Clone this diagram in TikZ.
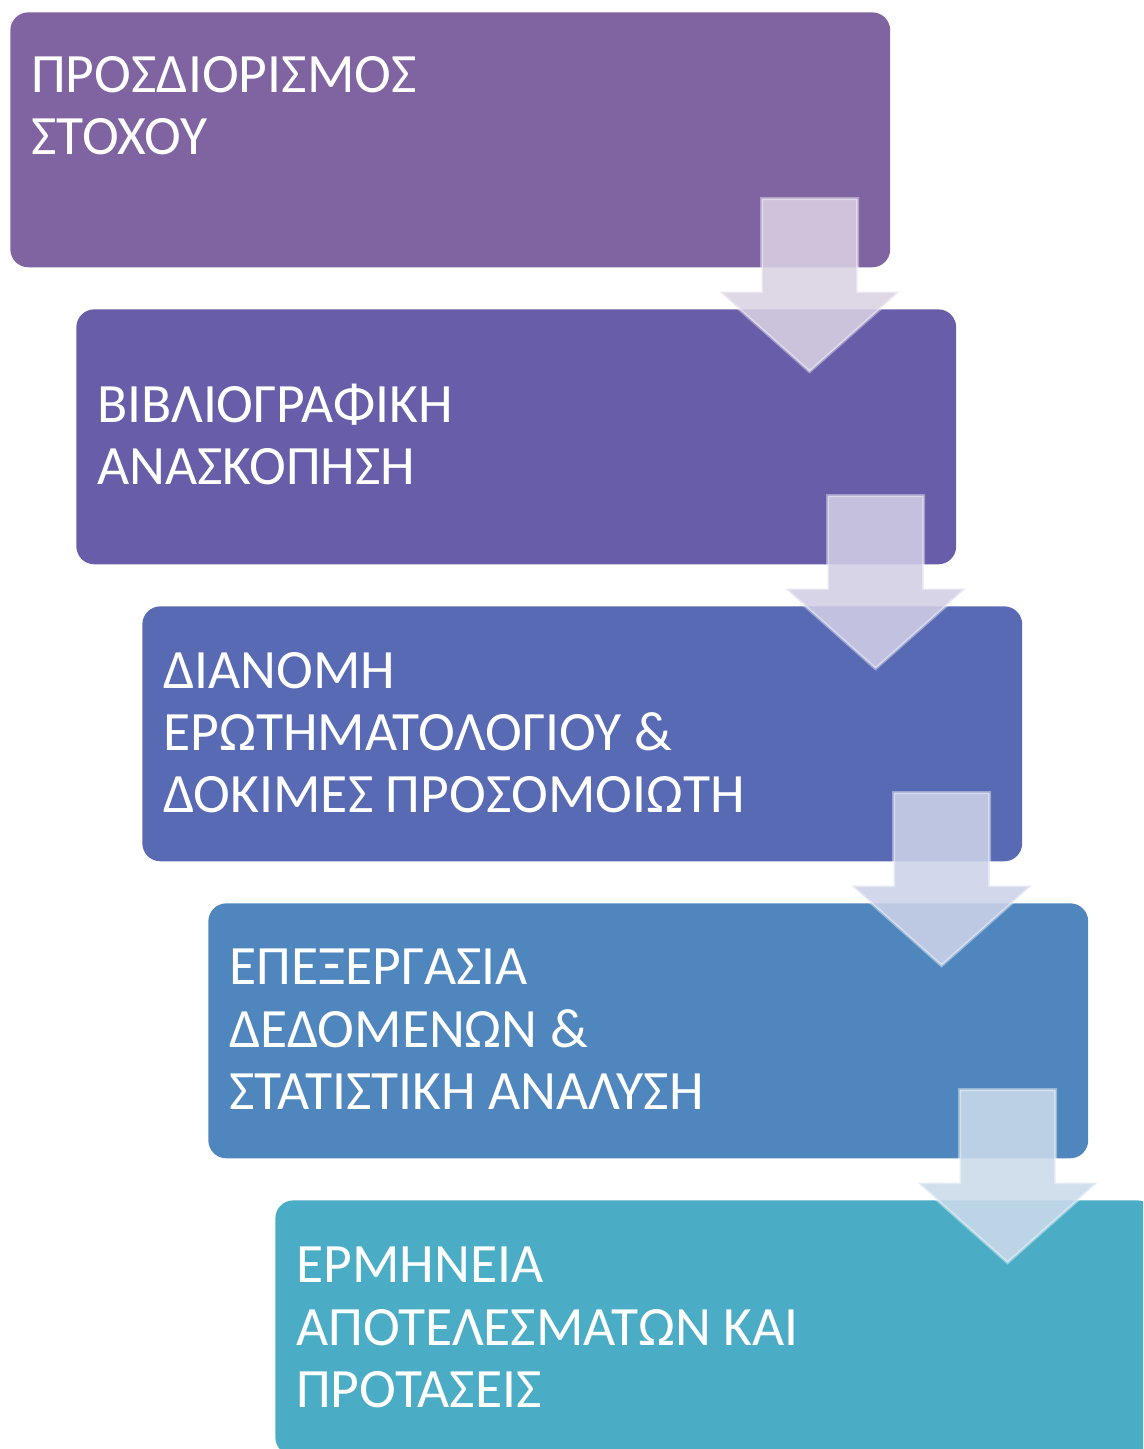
\documentclass[tikz,border=0pt]{standalone}
\usepackage{fontspec}
\setmainfont{Carlito}
\usetikzlibrary{positioning}

\definecolor{stepA}{HTML}{8064A2}
\definecolor{stepB}{HTML}{675DA8}
\definecolor{stepC}{HTML}{596AB4}
\definecolor{stepD}{HTML}{5086BE}
\definecolor{stepE}{HTML}{4BACC6}

\begin{document}
\begin{tikzpicture}[x=0.02cm, y=-0.02cm,
  stepbox/.style={fill=#1, rounded corners=0.36cm, minimum width=17.6cm,
    minimum height=5.1cm, inner sep=0pt, anchor=north west},
  steptext/.style={text=white, align=left, inner sep=0pt, anchor=north west,
    font=\fontsize{31.6}{35.3}\selectfont},
  flowarrow/.style={fill=#1!30!white, fill opacity=0.88, draw=white,
    draw opacity=0.4, line width=0.06cm}]

\clip (0,0) rectangle (1143,1449);

% steps
\node[stepbox=stepA] (b1) at (10,12) {};
\node[stepbox=stepB] (b2) at (76,309) {};
\node[stepbox=stepC] (b3) at (142,606) {};
\node[stepbox=stepD] (b4) at (208,903) {};
\node[stepbox=stepE] (b5) at (275,1200) {};

\node[steptext] (t1) at ([shift={(21,44)}]b1.north west) {ΠΡΟΣΔΙΟΡΙΣΜΟΣ\\ΣΤΟΧΟΥ};
\node[steptext] (t2) at ([shift={(21,75)}]b2.north west) {ΒΙΒΛΙΟΓΡΑΦΙΚΗ\\ΑΝΑΣΚΟΠΗΣΗ};
\node[steptext] (t3) at ([shift={(21,46)}]b3.north west) {ΔΙΑΝΟΜΗ\\ΕΡΩΤΗΜΑΤΟΛΟΓΙΟΥ \&\\ΔΟΚΙΜΕΣ ΠΡΟΣΟΜΟΙΩΤΗ};
\node[steptext] (t4) at ([shift={(21,46)}]b4.north west) {ΕΠΕΞΕΡΓΑΣΙΑ\\ΔΕΔΟΜΕΝΩΝ \&\\ΣΤΑΤΙΣΤΙΚΗ ΑΝΑΛΥΣΗ};
\node[steptext] (t5) at ([shift={(21,47)}]b5.north west) {ΕΡΜΗΝΕΙΑ\\ΑΠΟΤΕΛΕΣΜΑΤΩΝ ΚΑΙ\\ΠΡΟΤΑΣΕΙΣ};

% arrows between steps
\foreach \i/\c in {1/stepA,2/stepB,3/stepC,4/stepD}
  \draw[flowarrow=\c, shift={(b\i.south east)}]
    (-129,-69) -- (-33,-69) -- (-33,24) -- (9,24) -- (-81,104)
    -- (-171,24) -- (-129,24) -- cycle;

\end{tikzpicture}
\end{document}
